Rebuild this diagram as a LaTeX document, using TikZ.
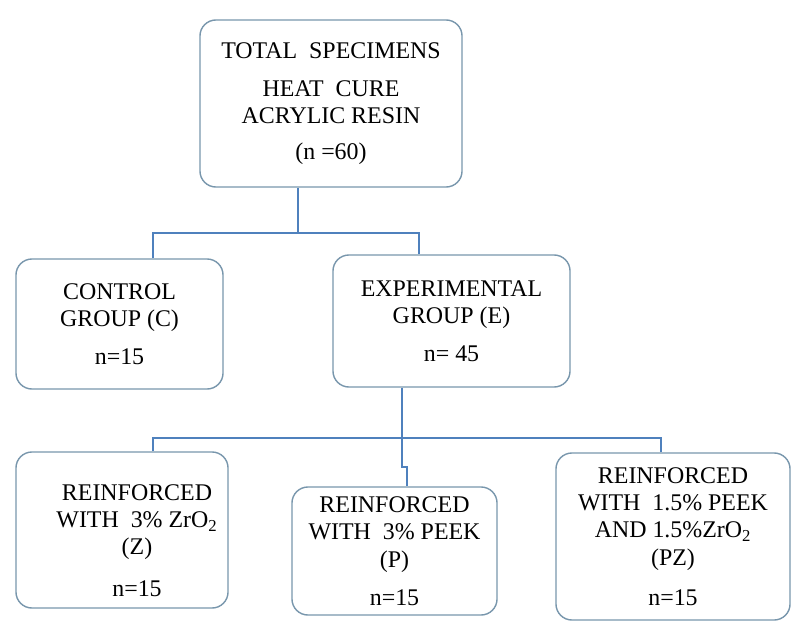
\documentclass[tikz,border=0pt]{standalone}
\usepackage{fontspec}
\setmainfont{Liberation Serif}
\newfontfamily\boxfont{Liberation Serif}
\definecolor{boxline}{RGB}{120,150,172}
\definecolor{connblue}{RGB}{79,129,189}
\tikzset{
  box/.style={draw=boxline, line width=1pt, rounded corners=0.4cm, align=center,
    inner sep=0pt, font=\boxfont\fontsize{17}{19.5}\selectfont},
  conn/.style={draw=connblue, line width=1.2pt},
}
\begin{document}
\begin{tikzpicture}[x=0.025cm, y=-0.025cm]
        \useasboundingbox (0,0) rectangle (800,629);

        % --- top box ---
        \node[box, minimum width=6.55cm, minimum height=4.175cm] (total) at (331,103.5)
            {TOTAL\ \ SPECIMENS\\[7.5pt] HEAT\ \ CURE\\ ACRYLIC RESIN\\[6pt] (n =60)};

        % --- groups ---
        \node[box, minimum width=5.175cm, minimum height=3.25cm] (ctl) at (119.5,324)
            {CONTROL\\ GROUP (C)\\[7.5pt] n=15};
        \node[box, minimum width=5.925cm, minimum height=3.3cm] (exp) at (451.5,321)
            {EXPERIMENTAL\\ GROUP (E)\\[7.5pt] n= 45};

        % --- subgroups ---
        \node[box, minimum width=5.3cm, minimum height=3.9cm] (zr) at (122,530)
            {\rule{0pt}{26pt}\hspace*{0.75cm}REINFORCED\\ \hspace*{0.75cm}WITH\ \ 3\% ZrO\textsubscript{2}\\ \hspace*{0.75cm}(Z)\\[10pt] \hspace*{0.75cm}n=15};
        \node[box, minimum width=5.125cm, minimum height=3.2cm] (pk) at (394.5,551)
            {REINFORCED\\ WITH\ \ 3\% PEEK\\ (P)\\[7.5pt] n=15};
        \node[box, minimum width=5.85cm, minimum height=4.175cm] (pz) at (673,536.5)
            {REINFORCED\\ WITH\ \ 1.5\% PEEK\\ AND 1.5\%ZrO\textsubscript{2}\\ (PZ)\\[9pt] n=15};

        % bus 1
        \coordinate (busA) at (298,233);
        \coordinate (busAl) at (153,233);
        \coordinate (busAr) at (419,233);
        \draw[conn] (total.south -| busA) -- (busA);
        \draw[conn] (ctl.north -| busAl) -- (busAl) -- (busAr) -- (exp.north -| busAr);

        % bus 2
        \coordinate (busB) at (402,438);
        \coordinate (busBl) at (153,438);
        \coordinate (busBr) at (661,438);
        \coordinate (jogA) at (402,467);
        \coordinate (jogB) at (407,467);
        \draw[conn] (exp.south -| busB) -- (busB) -- (jogA) -- (jogB) -- (pk.north -| jogB);
        \draw[conn] (zr.north -| busBl) -- (busBl) -- (busBr) -- (pz.north -| busBr);
\end{tikzpicture}
\end{document}
